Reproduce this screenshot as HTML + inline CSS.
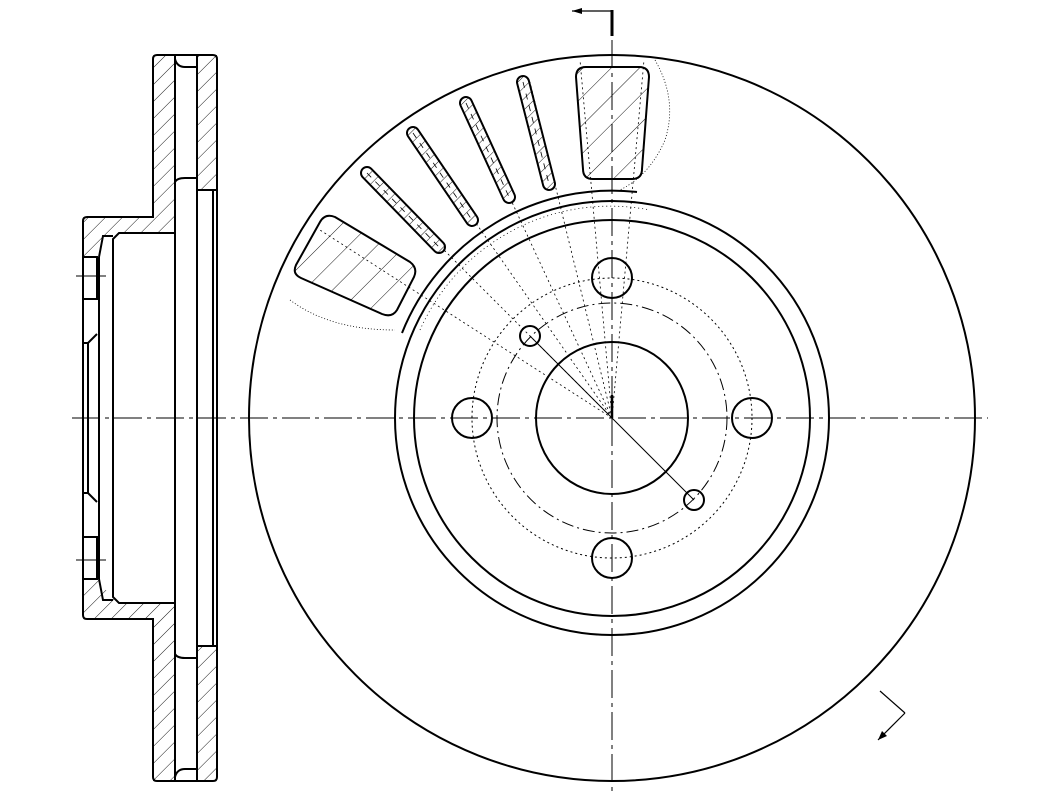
<!DOCTYPE html>
<html><head><meta charset="utf-8"><style>html,body{margin:0;padding:0;background:#fff}svg{display:block}</style></head>
<body>
<svg width="1060" height="800" viewBox="0 0 1060 800" xmlns="http://www.w3.org/2000/svg" fill="none" stroke="#000">
<defs>
<pattern id="h" patternUnits="userSpaceOnUse" width="12" height="12" patternTransform="rotate(45)">
<line x1="0" y1="0" x2="0" y2="12" stroke="#000" stroke-width="0.9"/>
</pattern>
<pattern id="h2" patternUnits="userSpaceOnUse" width="20" height="20" patternTransform="rotate(45)">
<line x1="0" y1="0" x2="0" y2="20" stroke="#000" stroke-width="0.9"/>
</pattern>
<pattern id="h3" patternUnits="userSpaceOnUse" width="8" height="8" patternTransform="rotate(45)">
<line x1="0" y1="0" x2="0" y2="8" stroke="#000" stroke-width="0.9"/>
</pattern>
</defs>

<!-- LEFT PROFILE -->
<g stroke-width="2">
<rect x="153" y="55" width="22" height="162" fill="url(#h)" stroke="none"/>
<rect x="153" y="619" width="22" height="162" fill="url(#h)" stroke="none"/>
<rect x="197" y="55" width="20" height="135" fill="url(#h)" stroke="none"/>
<rect x="197" y="646" width="20" height="135" fill="url(#h)" stroke="none"/>
<polygon points="83,217 175,217 175,233 119,233 99,253 99,257 83,257" fill="url(#h)" stroke="none"/>
<polygon points="83,619 175,619 175,603 119,603 99,583 99,579 83,579" fill="url(#h)" stroke="none"/>
<path d="M153,217 L153,59 Q153,55 157,55 L213,55 Q217,55 217,59 L217,777 Q217,781 213,781 L157,781 Q153,781 153,777 L153,619 L87,619 Q83,619 83,615 L83,221 Q83,217 87,217 Z"/>
<path d="M175,233 L119,233 L113,239 L113,597 L119,603 L175,603"/>
<path d="M99,257 L99,579 M99,257 L103,236 L113,236 M99,579 L103,600 L113,600"/>
<line x1="175" y1="55" x2="175" y2="781"/>
<line x1="197" y1="55" x2="197" y2="781"/>
<line x1="213" y1="190" x2="213" y2="646"/>
<line x1="197" y1="190" x2="217" y2="190"/>
<line x1="197" y1="646" x2="217" y2="646"/>
<path d="M175,59 Q177,67 185,67 L197,67 M175,182 Q177,178 185,178 L197,178"/>
<path d="M175,777 Q177,769 185,769 L197,769 M175,654 Q177,658 185,658 L197,658"/>
<path d="M83,257 L97,257 L97,299 L83,299 M83,579 L97,579 L97,537 L83,537"/>
<path d="M83,343 L88,343 L97,334 M83,493 L88,493 L97,502 M88,343 L88,493"/>
</g>
<line x1="76" y1="276" x2="106" y2="276" stroke-width="1"/>
<line x1="76" y1="560" x2="106" y2="560" stroke-width="1"/>

<!-- CENTERLINES -->
<line x1="72" y1="418" x2="988" y2="418" stroke-width="1" stroke-dasharray="28,5,4,5"/>
<line x1="612" y1="40" x2="612" y2="792" stroke-width="1" stroke-dasharray="28,5,4,5"/>

<line x1="612" y1="10" x2="612" y2="36" stroke-width="3"/>
<line x1="572" y1="11" x2="612" y2="11" stroke-width="1.2"/>
<polygon points="572,11 582,8 582,14" fill="#000" stroke="none"/>
<line x1="880" y1="691" x2="905" y2="713" stroke-width="1.2"/>
<line x1="905" y1="713" x2="878" y2="740" stroke-width="1.2"/>
<polygon points="878,740 882,731 887,736" fill="#000" stroke="none"/>

<!-- MAIN DISC -->
<g stroke-width="2">
<circle cx="612" cy="418" r="363"/>
<circle cx="612" cy="418" r="217"/>
<circle cx="612" cy="418" r="198"/>
<circle cx="612" cy="418" r="76"/>
<circle cx="612" cy="278" r="20"/>
<circle cx="612" cy="558" r="20"/>
<circle cx="472" cy="418" r="20"/>
<circle cx="752" cy="418" r="20"/>
<circle cx="530" cy="336" r="10"/>
<circle cx="694" cy="500" r="10"/>
<path d="M402,333 A226,226 0 0 1 637,192"/>
</g>
<circle cx="612" cy="418" r="140" stroke-width="1" stroke-dasharray="2,3"/>
<circle cx="612" cy="418" r="115" stroke-width="1" stroke-dasharray="12,4,2,4"/>
<path d="M420,330 A208,208 0 0 1 650,210" stroke-width="0.8" stroke-dasharray="1,3"/>
<path d="M290,300 Q330,330 395,330" stroke-width="0.8" stroke-dasharray="1,2"/>
<path d="M655,60 Q678,100 665,140 Q650,175 620,190" stroke-width="0.8" stroke-dasharray="1,2"/>
<g stroke-width="0.8" stroke-dasharray="2,3">
<line x1="612" y1="418" x2="530" y2="82"/>
<line x1="612" y1="418" x2="466" y2="103"/>
<line x1="612" y1="418" x2="413" y2="133"/>
<line x1="612" y1="418" x2="367" y2="173"/>
<line x1="612" y1="418" x2="320" y2="230"/>
<line x1="612" y1="418" x2="580" y2="60"/>
<line x1="612" y1="418" x2="644" y2="60"/>
</g>
<line x1="612" y1="418" x2="694" y2="500" stroke-width="1"/>
<line x1="612" y1="418" x2="530" y2="336" stroke-width="1"/>
<line x1="612" y1="395" x2="612" y2="418" stroke-width="2.5"/>

<!-- VENT SLOTS -->
<g stroke-width="2">
<path d="M586,67 L639,67 Q649,67 649,77 L642,169 Q642,179 632,179 L593,179 Q583,179 583,169 L576,77 Q576,67 586,67 Z" fill="url(#h2)"/>
<line x1="523" y1="82" x2="549" y2="184" stroke-width="14" stroke-linecap="round"/>
<line x1="523" y1="82" x2="549" y2="184" stroke-width="10" stroke-linecap="round" stroke="#fff"/>
<line x1="523" y1="82" x2="549" y2="184" stroke-width="10" stroke-linecap="round" stroke="url(#h3)"/>
<line x1="466" y1="103" x2="509" y2="197" stroke-width="14" stroke-linecap="round"/>
<line x1="466" y1="103" x2="509" y2="197" stroke-width="10" stroke-linecap="round" stroke="#fff"/>
<line x1="466" y1="103" x2="509" y2="197" stroke-width="10" stroke-linecap="round" stroke="url(#h3)"/>
<line x1="413" y1="133" x2="472" y2="220" stroke-width="14" stroke-linecap="round"/>
<line x1="413" y1="133" x2="472" y2="220" stroke-width="10" stroke-linecap="round" stroke="#fff"/>
<line x1="413" y1="133" x2="472" y2="220" stroke-width="10" stroke-linecap="round" stroke="url(#h3)"/>
<line x1="367" y1="173" x2="439" y2="247" stroke-width="14" stroke-linecap="round"/>
<line x1="367" y1="173" x2="439" y2="247" stroke-width="10" stroke-linecap="round" stroke="#fff"/>
<line x1="367" y1="173" x2="439" y2="247" stroke-width="10" stroke-linecap="round" stroke="url(#h3)"/>
<path d="M335,217 L410,262 Q418,268 414,277 L397,310 Q392,318 382,314 L301,278 Q292,274 296,265 L320,222 Q325,213 335,217 Z" fill="url(#h2)"/>
</g>
<g stroke-width="0.8">
<line x1="523" y1="82" x2="549" y2="184" stroke-dasharray="6,6"/>
<line x1="466" y1="103" x2="509" y2="197" stroke-dasharray="6,6"/>
<line x1="413" y1="133" x2="472" y2="220" stroke-dasharray="6,6"/>
<line x1="367" y1="173" x2="439" y2="247" stroke-dasharray="6,6"/>
</g>
</svg>
</body></html>
